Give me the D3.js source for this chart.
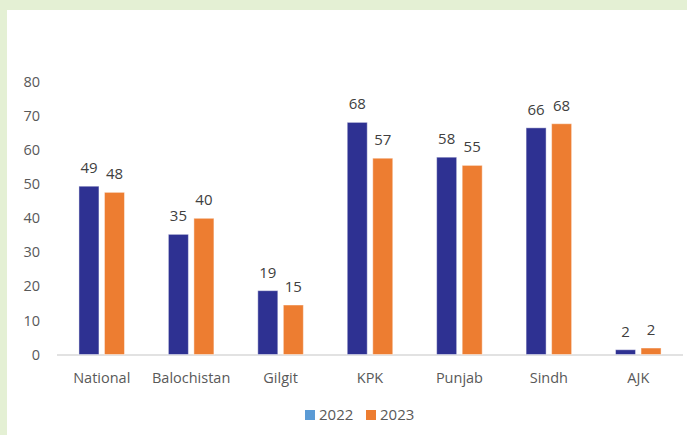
<!DOCTYPE html>
<html><head><meta charset="utf-8">
<script src="https://cdn.jsdelivr.net/npm/d3@7"></script>
<style>
html,body{margin:0;padding:0;background:#fff;}
svg{display:block;}
</style></head>
<body>
<script>
const categories = ["National","Balochistan","Gilgit","KPK","Punjab","Sindh","AJK"];
const series = ["2022","2023"];
const values2022 = [49.3, 35.2, 18.7, 68.0, 57.8, 66.4, 1.4];
const values2023 = [47.5, 39.9, 14.5, 57.5, 55.4, 67.6, 1.9];
const labels2022 = ["49","35","19","68","58","66","2"];
const labels2023 = ["48","40","15","57","55","68","2"];
const yTicks = [0,10,20,30,40,50,60,70,80];

const W = 687, H = 435;
const barColors = {"2022":"#2E3192","2023":"#ED7D31"};
const legendColors = {"2022":"#5B9BD5","2023":"#ED7D31"};
const font = "'Open Sans', 'Noto Sans', sans-serif";

const svg = d3.select("body").append("svg").attr("width",W).attr("height",H);
svg.append("rect").attr("width",W).attr("height",H).attr("fill","#E4F0D4");
svg.append("rect").attr("x",7).attr("y",10).attr("width",W-7).attr("height",H-10).attr("fill","#fff");

const x = d3.scaleBand().domain(categories).range([57,683]).padding(0);
const x1 = d3.scaleBand().domain(series).range([0,x.bandwidth()]).paddingInner(0.216).paddingOuter(0.86);
const y = d3.scaleLinear().domain([0,80]).range([354.5,81.4]);

// y tick labels
const yAxis = d3.axisLeft(y).tickValues(yTicks).tickSize(0).tickPadding(0);
const gy = svg.append("g").attr("transform","translate(40,0)").call(yAxis);
gy.select(".domain").remove();
gy.selectAll("text").attr("font-family",font).attr("font-size",14.5).attr("fill","#595959");

// baseline
svg.append("line").attr("x1",57).attr("x2",683).attr("y1",y(0)+0.5).attr("y2",y(0)+0.5)
  .attr("stroke","#D9D9D9").attr("stroke-width",1.5);

// x axis labels
const xAxis = d3.axisBottom(x).tickSize(0).tickPadding(0);
const gx = svg.append("g").attr("transform","translate(0,370)").call(xAxis);
gx.select(".domain").remove();
gx.selectAll("text").attr("font-family",font).attr("font-size",14.5).attr("fill","#595959").attr("dy","0.35em").attr("y",8);

const data = categories.map((c,i)=>({cat:c, vals:[
  {s:"2022", v:values2022[i], l:labels2022[i]},
  {s:"2023", v:values2023[i], l:labels2023[i]}]}));

const g = svg.append("g");
const groups = g.selectAll("g.cat").data(data).join("g").attr("class","cat")
  .attr("transform",d=>`translate(${x(d.cat)},0)`);
groups.selectAll("rect").data(d=>d.vals).join("rect")
  .attr("x",d=>x1(d.s)).attr("width",x1.bandwidth())
  .attr("y",d=>y(d.v)).attr("height",d=>y(0)-y(d.v))
  .attr("fill",d=>barColors[d.s])
  .attr("stroke","rgba(255,255,255,0.45)").attr("stroke-width",1);
groups.selectAll("text").data(d=>d.vals).join("text")
  .attr("x",d=>x1(d.s)+x1.bandwidth()/2).attr("y",d=>y(d.v)-13)
  .attr("text-anchor","middle").attr("font-family",font).attr("font-size",15)
  .attr("fill","#404040").text(d=>d.l);

// legend
const legend = svg.append("g").attr("transform","translate(0,415)");
const lx = [305, 366];
series.forEach((s,i)=>{
  legend.append("rect").attr("x",lx[i]).attr("y",-5).attr("width",10).attr("height",10).attr("fill",legendColors[s]);
  legend.append("text").attr("x",lx[i]+14).attr("y",0).attr("dy","0.35em")
    .attr("font-family",font).attr("font-size",15).attr("fill","#595959").text(s);
});
</script>
</body></html>
